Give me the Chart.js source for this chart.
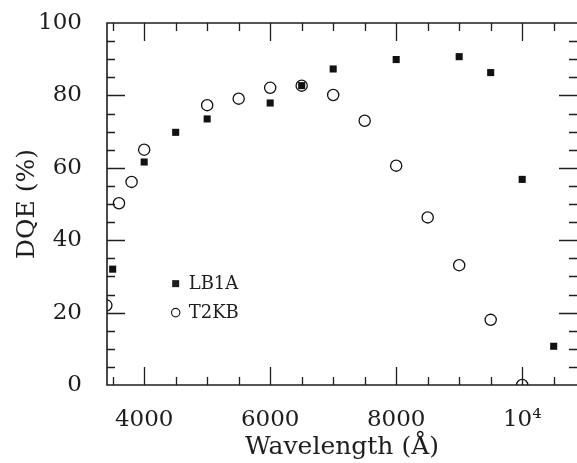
<!DOCTYPE html>
<html>
<head>
<meta charset="utf-8">
<script src="https://cdn.jsdelivr.net/npm/chart.js@4/dist/chart.umd.min.js"></script>
<style>
  html, body { margin: 0; padding: 0; background: #fff; }
  canvas { display: block; }
</style>
</head>
<body>
<canvas id="dqeChart" width="577" height="463"></canvas>
<script>
// values
const lb1aWave = [3500, 4000, 4500, 5000, 6000, 6500, 7000, 8000, 9000, 9500, 10000, 10500];
const lb1aDqe = [32, 61.6, 69.8, 73.5, 77.9, 82.7, 87.3, 89.9, 90.7, 86.3, 56.8, 10.7];

const t2kbWave = [3400, 3600, 3800, 4000, 5000, 5500, 6000, 6500, 7000, 7500, 8000, 8500, 9000, 9500, 10000];
const t2kbDqe = [22, 50.2, 56.1, 65, 77.3, 79.1, 82.1, 82.7, 80.1, 73, 60.6, 46.3, 33.1, 18, 0];

const xTicks = [4000, 6000, 8000, 10000];
const yTicks = [0, 20, 40, 60, 80, 100];

const ink = '#1e1e1e';
const serif = "'DejaVu Serif', 'Liberation Serif', serif";

function toPoints(xs, ys) {
  return xs.map((x, i) => ({ x: x, y: ys[i] }));
}

// frame with inward ticks on all four sides + the little legend
const framePlugin = {
  id: 'frame',
  afterDraw(chart) {
    const ctx = chart.ctx;
    const a = chart.chartArea;
    const xs = chart.scales.x;
    const ys = chart.scales.y;
    ctx.save();
    ctx.strokeStyle = ink;
    ctx.lineWidth = 1.6;
    ctx.beginPath();
    ctx.moveTo(a.right, a.top);
    ctx.lineTo(a.left, a.top);
    ctx.lineTo(a.left, a.bottom);
    ctx.lineTo(a.right, a.bottom);
    ctx.stroke();

    ctx.lineWidth = 1.3;
    ctx.beginPath();
    for (let v = 3500; v <= 10500; v += 500) {
      const px = Math.round(xs.getPixelForValue(v)) + 0.5;
      const len = v % 2000 === 0 ? 18 : 8;
      ctx.moveTo(px, a.bottom); ctx.lineTo(px, a.bottom - len);
      ctx.moveTo(px, a.top); ctx.lineTo(px, a.top + len);
    }
    for (let v = 5; v < 100; v += 5) {
      const py = Math.round(ys.getPixelForValue(v)) + 0.5;
      const len = v % 20 === 0 ? 18 : 8;
      ctx.moveTo(a.left, py); ctx.lineTo(a.left + len, py);
      ctx.moveTo(a.right, py); ctx.lineTo(a.right - len, py);
    }
    ctx.stroke();

    // legend
    const lx = xs.getPixelForValue(4500);
    const rows = [
      { label: chart.data.datasets[0].label, y: ys.getPixelForValue(28), filled: true },
      { label: chart.data.datasets[1].label, y: ys.getPixelForValue(20), filled: false }
    ];
    ctx.font = '18px ' + serif;
    ctx.textBaseline = 'middle';
    ctx.fillStyle = ink;
    rows.forEach(r => {
      if (r.filled) {
        ctx.fillRect(lx - 3.5, r.y - 3.5, 7, 7);
      } else {
        ctx.beginPath();
        ctx.lineWidth = 1.2;
        ctx.arc(lx, r.y, 4.2, 0, Math.PI * 2);
        ctx.stroke();
      }
      ctx.fillText(r.label, lx + 13, r.y + 1);
    });
    ctx.restore();
  }
};

new Chart(document.getElementById('dqeChart'), {
  type: 'scatter',
  data: {
    datasets: [
      {
        label: 'LB1A',
        data: toPoints(lb1aWave, lb1aDqe),
        pointStyle: 'rect',
        pointRadius: 5,
        backgroundColor: '#111',
        borderColor: '#111',
        borderWidth: 0,
        clip: 0,
        order: 0
      },
      {
        label: 'T2KB',
        data: toPoints(t2kbWave, t2kbDqe),
        pointStyle: 'circle',
        pointRadius: 5.6,
        backgroundColor: 'rgba(0,0,0,0)',
        borderColor: '#111',
        borderWidth: 1.3,
        clip: 0,
        order: 1
      }
    ]
  },
  options: {
    responsive: false,
    animation: false,
    layout: { autoPadding: false, padding: { top: 23, right: 0, left: 0, bottom: 0 } },
    plugins: {
      legend: { display: false },
      tooltip: { enabled: false }
    },
    scales: {
      x: {
        type: 'linear',
        min: 3410,
        max: 10870,
        grid: { display: false },
        border: { display: false },
        afterBuildTicks(scale) {
          scale.ticks = xTicks.map(v => ({ value: v }));
        },
        afterFit(scale) {
          scale.height = 78;
          scale.paddingLeft = 0;
          scale.paddingRight = 0;
        },
        ticks: {
          color: ink,
          padding: 13,
          maxRotation: 0,
          font: { family: serif, size: 23 },
          callback: v => v === 10000 ? '10\u2074' : String(v)
        },
        title: {
          display: true,
          text: 'Wavelength (\u00c5)',
          color: ink,
          font: { family: serif, size: 25 },
          padding: { top: 0, bottom: 1 }
        }
      },
      y: {
        type: 'linear',
        min: 0,
        max: 100,
        grid: { display: false },
        border: { display: false },
        afterBuildTicks(scale) {
          scale.ticks = yTicks.map(v => ({ value: v }));
        },
        afterFit(scale) {
          scale.width = 107;
          scale.paddingTop = 0;
          scale.paddingBottom = 0;
        },
        ticks: {
          color: ink,
          padding: 17,
          font: { family: serif, size: 23 }
        },
        title: {
          display: true,
          text: 'DQE (%)',
          color: ink,
          font: { family: serif, size: 25 },
          padding: { top: 12, bottom: 0 }
        }
      }
    }
  },
  plugins: [framePlugin]
});
</script>
</body>
</html>
